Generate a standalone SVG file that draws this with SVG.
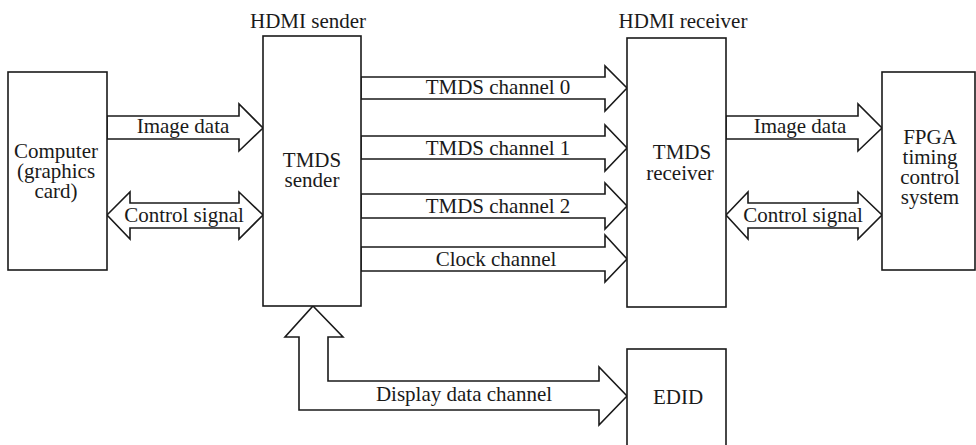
<svg xmlns="http://www.w3.org/2000/svg" width="976" height="445" viewBox="0 0 976 445">
<style>
.box{fill:#fff;stroke:#1a1a1a;stroke-width:1.6}
.arr{fill:#fff;stroke:#1a1a1a;stroke-width:1.6;stroke-linejoin:miter}
text{font-family:"Liberation Serif","Times New Roman",serif;font-size:21px;fill:#1a1a1a;text-anchor:middle}
</style>
<rect width="976" height="445" fill="#fff"/>
<g id="connectors">
<polygon class="arr" points="107,116 239,116 239,104 263,128 239,151 239,139 107,139"/>
<polygon class="arr" points="107,215 130,192 130,203 239,203 239,192 263,215 239,239 239,228 130,228 130,239"/>
<polygon class="arr" points="361,77 605,77 605,66 627,88 605,111 605,99 361,99"/>
<polygon class="arr" points="361,136 605,136 605,125 627,148 605,171 605,159 361,159"/>
<polygon class="arr" points="361,194 605,194 605,183 627,206 605,229 605,218 361,218"/>
<polygon class="arr" points="361,247 605,247 605,235 627,259 605,282 605,271 361,271"/>
<polygon class="arr" points="726,116 858,116 858,104 882,128 858,151 858,139 726,139"/>
<polygon class="arr" points="726,215 748,192 748,203 858,203 858,192 882,215 858,239 858,228 748,228 748,239"/>
<polygon class="arr" points="313,306 343,337 328,337 328,381 599,381 599,367 627,396 599,425 599,410 299,410 299,337 285,337"/>
<text x="183" y="133">Image data</text>
<text x="184" y="222">Control signal</text>
<text x="498" y="94">TMDS channel 0</text>
<text x="498" y="155">TMDS channel 1</text>
<text x="498" y="213">TMDS channel 2</text>
<text x="496" y="266">Clock channel</text>
<text x="800" y="133">Image data</text>
<text x="803" y="222">Control signal</text>
<text x="464" y="401">Display data channel</text>
</g>
<g id="computer">
<rect class="box" x="8" y="72" width="99" height="198"/>
<text x="56" y="158">Computer</text>
<text x="56" y="178">(graphics</text>
<text x="56" y="198">card)</text>
</g>
<g id="hdmi-sender">
<text x="308" y="28">HDMI sender</text>
<rect class="box" x="263" y="36" width="98" height="270"/>
<text x="312" y="167">TMDS</text>
<text x="312" y="187">sender</text>
</g>
<g id="hdmi-receiver">
<text x="683" y="28">HDMI receiver</text>
<rect class="box" x="627" y="38" width="99" height="269"/>
<text x="682" y="159">TMDS</text>
<text x="680" y="180">receiver</text>
</g>
<g id="fpga">
<rect class="box" x="882" y="72" width="93" height="198"/>
<text x="930" y="144">FPGA</text>
<text x="930" y="164">timing</text>
<text x="930" y="184">control</text>
<text x="930" y="204">system</text>
</g>
<g id="edid">
<rect class="box" x="627" y="349" width="99" height="110"/>
<text x="678" y="404">EDID</text>
</g>
</svg>
